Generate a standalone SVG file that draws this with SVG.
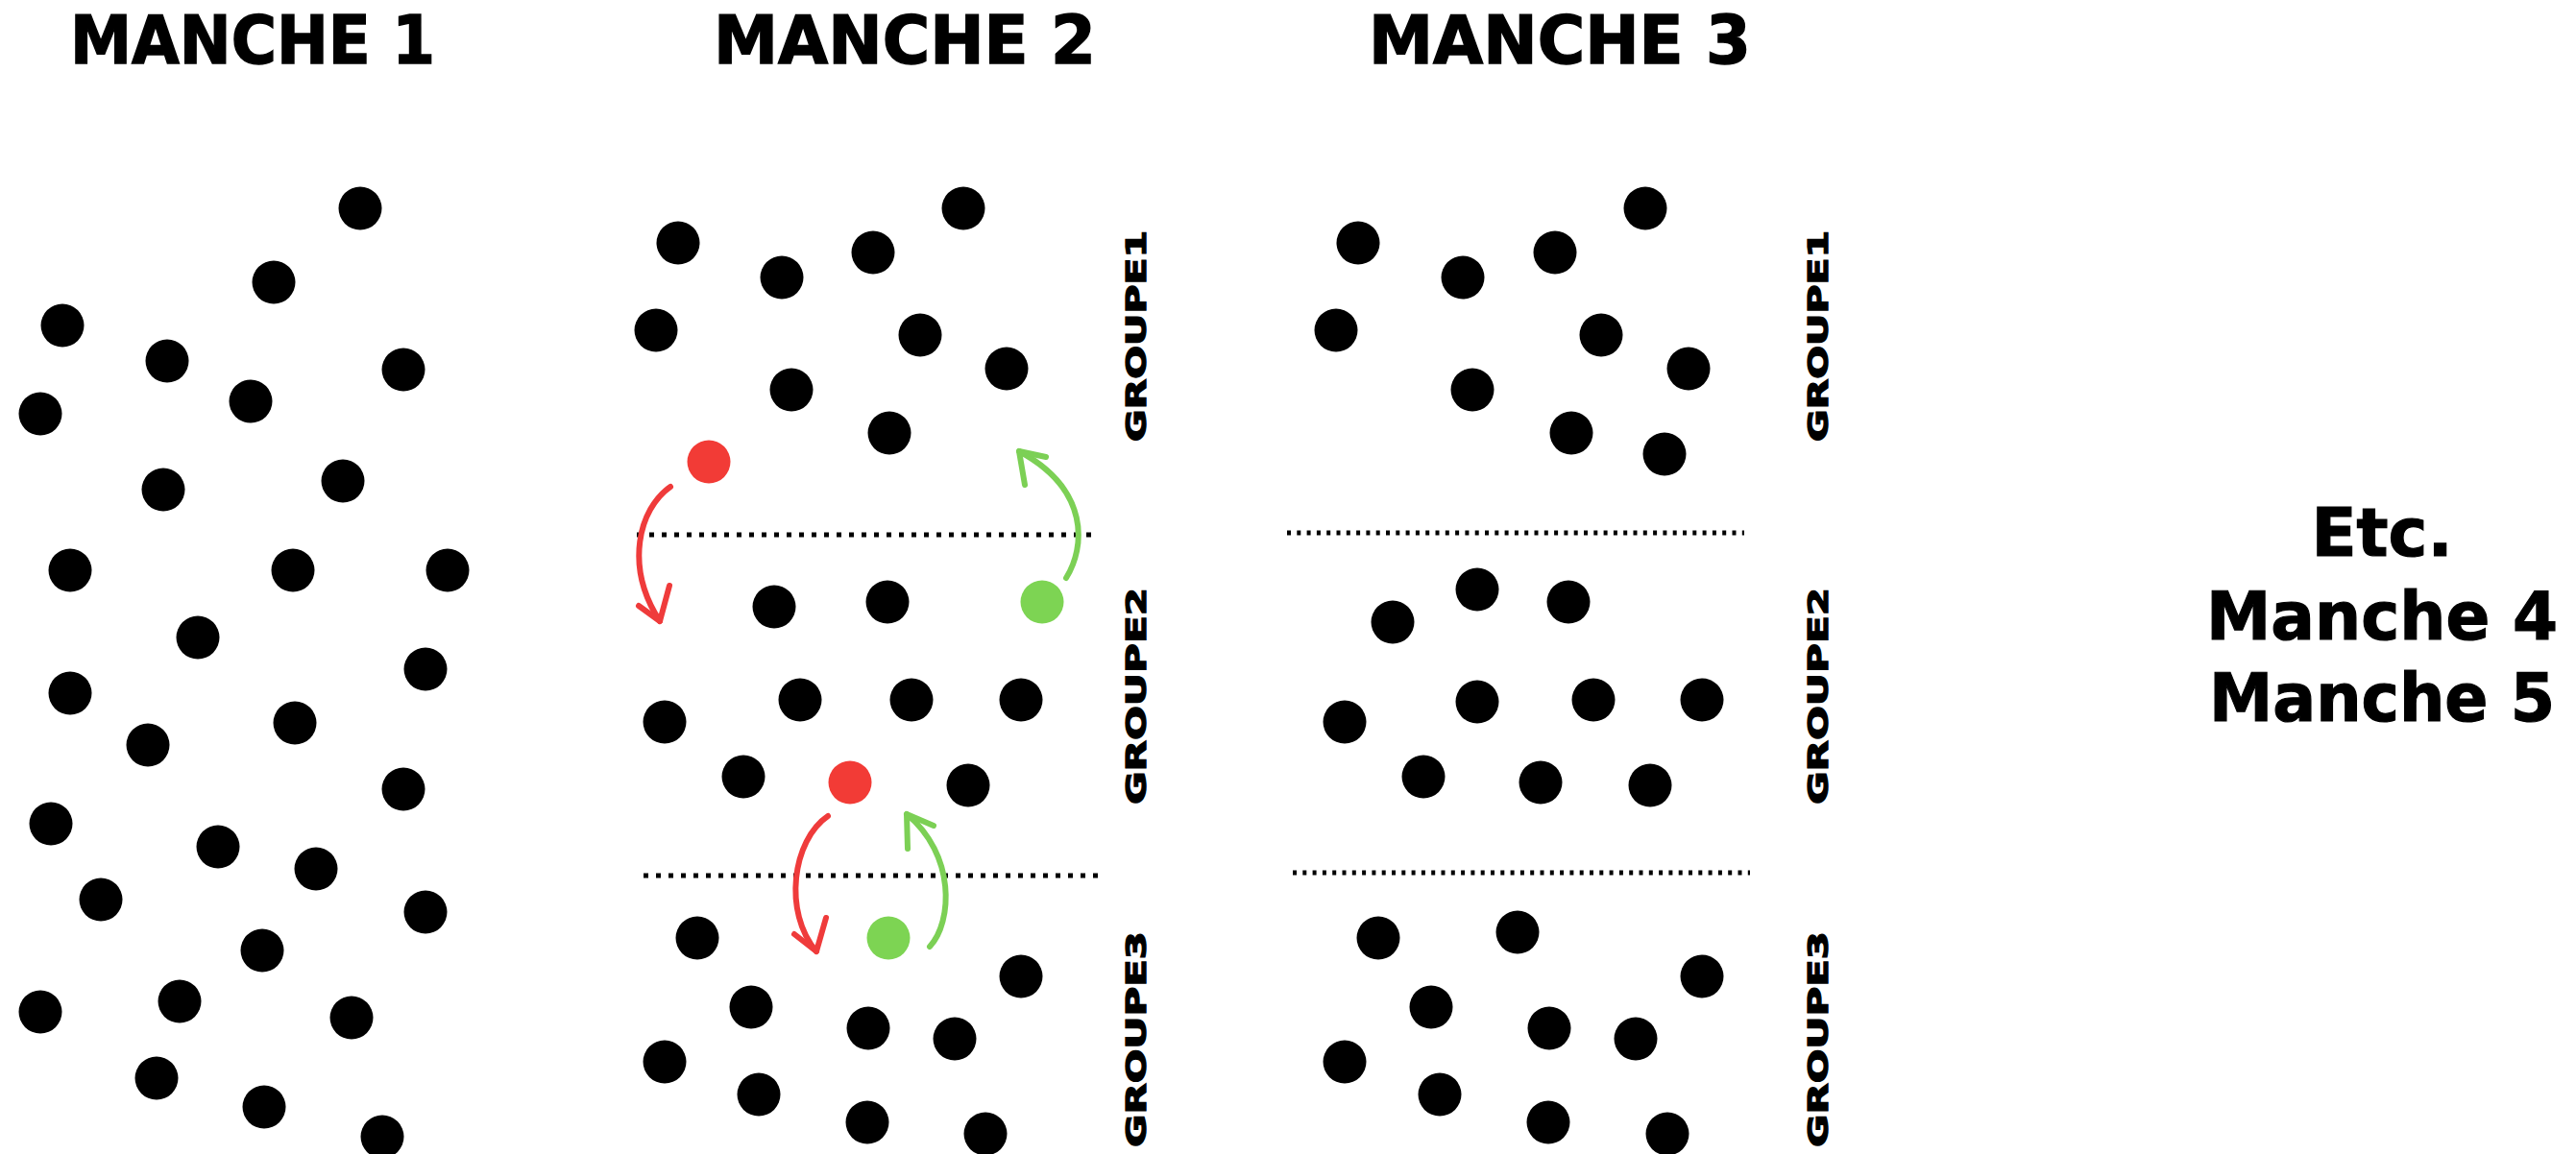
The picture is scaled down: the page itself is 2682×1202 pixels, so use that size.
<svg xmlns="http://www.w3.org/2000/svg" width="2682" height="1202" viewBox="0 0 2682 1202">
<style>
.t{font-family:"DejaVu Sans","Liberation Sans",sans-serif;font-weight:bold;fill:#000;stroke:#000}
.title{font-size:70px;stroke-width:1.5}
.etc{font-size:69px;stroke-width:1.2}
.grp{font-size:29px;stroke-width:1.3}
.d{fill:#000}
.red{fill:#f23b36}
.green{fill:#7dd453}
.sep{stroke:#000;stroke-width:5;fill:none}
.ar{fill:none;stroke-width:6;stroke-linecap:round;stroke-linejoin:round}
.ar-r{stroke:#ef3b3b}
.ar-g{stroke:#7cd055}
</style>
<rect width="2682" height="1202" fill="#fff"/>

<g id="titles">
<text class="t title" x="73" y="66" textLength="380" lengthAdjust="spacingAndGlyphs">MANCHE 1</text>
<text class="t title" x="743" y="66" textLength="398" lengthAdjust="spacingAndGlyphs">MANCHE 2</text>
<text class="t title" x="1425" y="66" textLength="398" lengthAdjust="spacingAndGlyphs">MANCHE 3</text>
</g>

<g id="manche1">
<circle class="d" cx="375" cy="217" r="22.5"/>
<circle class="d" cx="285" cy="294" r="22.5"/>
<circle class="d" cx="65" cy="339" r="22.5"/>
<circle class="d" cx="174" cy="376" r="22.5"/>
<circle class="d" cx="420" cy="385" r="22.5"/>
<circle class="d" cx="42" cy="431" r="22.5"/>
<circle class="d" cx="261" cy="418" r="22.5"/>
<circle class="d" cx="170" cy="510" r="22.5"/>
<circle class="d" cx="357" cy="501" r="22.5"/>
<circle class="d" cx="73" cy="594" r="22.5"/>
<circle class="d" cx="305" cy="594" r="22.5"/>
<circle class="d" cx="466" cy="594" r="22.5"/>
<circle class="d" cx="206" cy="664" r="22.5"/>
<circle class="d" cx="443" cy="697" r="22.5"/>
<circle class="d" cx="73" cy="722" r="22.5"/>
<circle class="d" cx="307" cy="753" r="22.5"/>
<circle class="d" cx="154" cy="776" r="22.5"/>
<circle class="d" cx="420" cy="822" r="22.5"/>
<circle class="d" cx="53" cy="858" r="22.5"/>
<circle class="d" cx="227" cy="882" r="22.5"/>
<circle class="d" cx="329" cy="905" r="22.5"/>
<circle class="d" cx="105" cy="937" r="22.5"/>
<circle class="d" cx="443" cy="950" r="22.5"/>
<circle class="d" cx="273" cy="990" r="22.5"/>
<circle class="d" cx="42" cy="1054" r="22.5"/>
<circle class="d" cx="187" cy="1043" r="22.5"/>
<circle class="d" cx="366" cy="1060" r="22.5"/>
<circle class="d" cx="163" cy="1123" r="22.5"/>
<circle class="d" cx="275" cy="1153" r="22.5"/>
<circle class="d" cx="398" cy="1184" r="22.5"/>
</g>

<g id="manche2">
<g id="m2-groupe1">
<circle class="d" cx="1003" cy="217" r="22.5"/>
<circle class="d" cx="706" cy="253" r="22.5"/>
<circle class="d" cx="909" cy="263" r="22.5"/>
<circle class="d" cx="814" cy="289" r="22.5"/>
<circle class="d" cx="683" cy="344" r="22.5"/>
<circle class="d" cx="958" cy="349" r="22.5"/>
<circle class="d" cx="1048" cy="384" r="22.5"/>
<circle class="d" cx="824" cy="406" r="22.5"/>
<circle class="d" cx="926" cy="451" r="22.5"/>
<circle id="m2-red1" class="red" cx="738" cy="481" r="22.5"/>
<text class="t grp" transform="translate(1193 460) rotate(-90)" textLength="220" lengthAdjust="spacingAndGlyphs">GROUPE1</text>
</g>
<g id="m2-groupe2">
<circle class="d" cx="806" cy="632" r="22.5"/>
<circle class="d" cx="924" cy="627" r="22.5"/>
<circle id="m2-green1" class="green" cx="1085" cy="627" r="22.5"/>
<circle class="d" cx="692" cy="752" r="22.5"/>
<circle class="d" cx="833" cy="729" r="22.5"/>
<circle class="d" cx="949" cy="729" r="22.5"/>
<circle class="d" cx="1063" cy="729" r="22.5"/>
<circle class="d" cx="774" cy="809" r="22.5"/>
<circle id="m2-red2" class="red" cx="885" cy="815" r="22.5"/>
<circle class="d" cx="1008" cy="818" r="22.5"/>
<text class="t grp" transform="translate(1193 838) rotate(-90)" textLength="226" lengthAdjust="spacingAndGlyphs">GROUPE2</text>
</g>
<g id="m2-groupe3">
<circle class="d" cx="726" cy="977" r="22.5"/>
<circle id="m2-green2" class="green" cx="925" cy="977" r="22.5"/>
<circle class="d" cx="1063" cy="1017" r="22.5"/>
<circle class="d" cx="782" cy="1049" r="22.5"/>
<circle class="d" cx="904" cy="1071" r="22.5"/>
<circle class="d" cx="994" cy="1082" r="22.5"/>
<circle class="d" cx="692" cy="1106" r="22.5"/>
<circle class="d" cx="790" cy="1140" r="22.5"/>
<circle class="d" cx="903" cy="1169" r="22.5"/>
<circle class="d" cx="1026" cy="1181" r="22.5"/>
<text class="t grp" transform="translate(1193 1195) rotate(-90)" textLength="225" lengthAdjust="spacingAndGlyphs">GROUPE3</text>
</g>
<line class="sep" x1="663" y1="557" x2="1138" y2="557" stroke-dasharray="5 8"/>
<line class="sep" x1="670" y1="912" x2="1145" y2="912" stroke-dasharray="5 8"/>
</g>

<g id="manche3">
<g id="m3-groupe1">
<circle class="d" cx="1713" cy="217" r="22.5"/>
<circle class="d" cx="1414" cy="253" r="22.5"/>
<circle class="d" cx="1619" cy="263" r="22.5"/>
<circle class="d" cx="1523" cy="289" r="22.5"/>
<circle class="d" cx="1391" cy="344" r="22.5"/>
<circle class="d" cx="1667" cy="349" r="22.5"/>
<circle class="d" cx="1758" cy="384" r="22.5"/>
<circle class="d" cx="1533" cy="406" r="22.5"/>
<circle class="d" cx="1636" cy="451" r="22.5"/>
<circle class="d" cx="1733" cy="473" r="22.5"/>
<text class="t grp" transform="translate(1903 460) rotate(-90)" textLength="220" lengthAdjust="spacingAndGlyphs">GROUPE1</text>
</g>
<g id="m3-groupe2">
<circle class="d" cx="1538" cy="614" r="22.5"/>
<circle class="d" cx="1633" cy="627" r="22.5"/>
<circle class="d" cx="1450" cy="648" r="22.5"/>
<circle class="d" cx="1400" cy="752" r="22.5"/>
<circle class="d" cx="1538" cy="731" r="22.5"/>
<circle class="d" cx="1659" cy="729" r="22.5"/>
<circle class="d" cx="1772" cy="729" r="22.5"/>
<circle class="d" cx="1482" cy="809" r="22.5"/>
<circle class="d" cx="1604" cy="815" r="22.5"/>
<circle class="d" cx="1718" cy="818" r="22.5"/>
<text class="t grp" transform="translate(1903 838) rotate(-90)" textLength="226" lengthAdjust="spacingAndGlyphs">GROUPE2</text>
</g>
<g id="m3-groupe3">
<circle class="d" cx="1435" cy="977" r="22.5"/>
<circle class="d" cx="1580" cy="971" r="22.5"/>
<circle class="d" cx="1772" cy="1017" r="22.5"/>
<circle class="d" cx="1490" cy="1049" r="22.5"/>
<circle class="d" cx="1613" cy="1071" r="22.5"/>
<circle class="d" cx="1703" cy="1082" r="22.5"/>
<circle class="d" cx="1400" cy="1106" r="22.5"/>
<circle class="d" cx="1499" cy="1140" r="22.5"/>
<circle class="d" cx="1612" cy="1169" r="22.5"/>
<circle class="d" cx="1736" cy="1181" r="22.5"/>
<text class="t grp" transform="translate(1903 1195) rotate(-90)" textLength="225" lengthAdjust="spacingAndGlyphs">GROUPE3</text>
</g>
<line class="sep" x1="1340" y1="555" x2="1816" y2="555" stroke-dasharray="4 6.3"/>
<line class="sep" x1="1346" y1="909" x2="1822" y2="909" stroke-dasharray="4 6.3"/>
</g>

<g id="connectors">
<g id="arrow-red1" class="ar ar-r">
<path d="M698,507 C665,530 650,590 687,647"/>
<path d="M665,631 L687,647 L697,610"/>
</g>
<g id="arrow-green1" class="ar ar-g">
<path d="M1110,602 C1130,570 1135,510 1061,470"/>
<path d="M1089,476 L1061,470 L1067,505"/>
</g>
<g id="arrow-red2" class="ar ar-r">
<path d="M862,850 C825,875 815,950 850,991"/>
<path d="M827,973 L850,991 L860,956"/>
</g>
<g id="arrow-green2" class="ar ar-g">
<path d="M968,986 C992,960 995,890 944,848"/>
<path d="M972,860 L944,848 L945,884"/>
</g>
</g>

<g id="etc">
<text class="t etc" x="2480" y="579" text-anchor="middle">Etc.</text>
<text class="t etc" x="2480" y="666" text-anchor="middle" textLength="366" lengthAdjust="spacingAndGlyphs">Manche 4</text>
<text class="t etc" x="2480" y="751" text-anchor="middle" textLength="360" lengthAdjust="spacingAndGlyphs">Manche 5</text>
</g>
</svg>
